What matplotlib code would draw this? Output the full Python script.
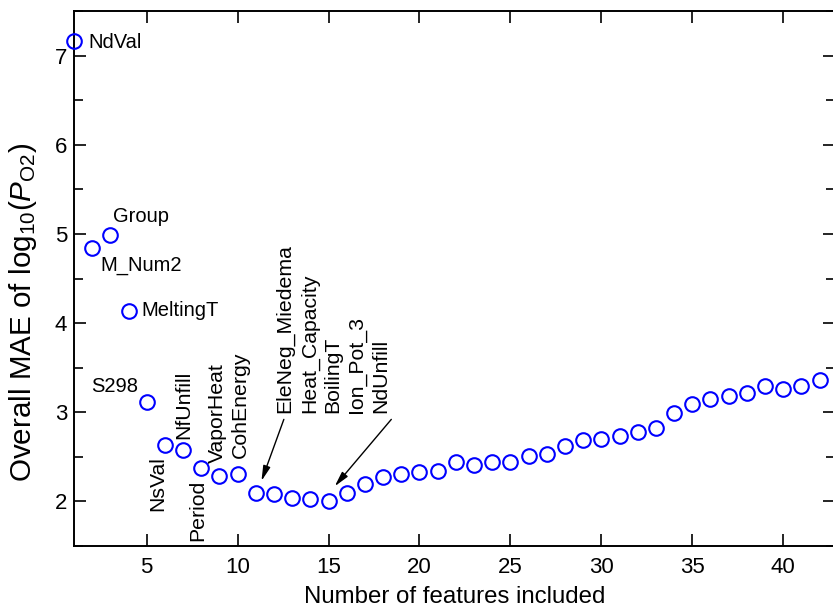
import matplotlib
matplotlib.use("Agg")
import matplotlib.pyplot as plt
from matplotlib.ticker import MultipleLocator

plt.rcParams['font.family'] = ['Liberation Sans', 'DejaVu Sans']
plt.rcParams['mathtext.fontset'] = 'custom'
plt.rcParams['mathtext.rm'] = 'Liberation Sans'
plt.rcParams['mathtext.it'] = 'Liberation Sans:italic'

# ---- data ----
n_features = list(range(1, 43))
mae = [7.16, 4.84, 4.99, 4.14, 3.12, 2.63, 2.58, 2.37, 2.29, 2.31,
       2.10, 2.08, 2.04, 2.03, 2.00, 2.09, 2.19, 2.27, 2.31, 2.33,
       2.34, 2.44, 2.41, 2.44, 2.44, 2.51, 2.53, 2.62, 2.69, 2.70,
       2.73, 2.78, 2.82, 2.99, 3.09, 3.15, 3.18, 3.22, 3.29, 3.26,
       3.30, 3.36]

# horizontal labels
h_labels = ["NdVal", "Group", "M_Num2", "MeltingT", "S298"]
h_x = [1.80, 3.13, 2.43, 4.72, 4.52]
h_y = [7.15, 5.19, 4.65, 4.14, 3.29]
h_ha = ["left", "left", "left", "left", "right"]

# vertical labels (x-centre, y-bottom)
v_labels = ["NsVal", "NfUnfill", "Period", "VaporHeat", "CohEnergy",
            "EleNeg_Miedema", "Heat_Capacity", "BoilingT", "Ion_Pot_3", "NdUnfill"]
v_x = [5.62, 7.04, 7.81, 8.91, 10.15, 12.59, 13.95, 15.25, 16.55, 17.87]
v_y = [1.89, 2.70, 1.555, 2.43, 2.49, 2.995, 2.995, 2.995, 2.995, 2.995]

# arrows (tail -> head)
arrow_tail = [(12.54, 2.92), (18.45, 2.92)]
arrow_head = [(11.31, 2.23), (15.34, 2.17)]

fig = plt.figure(figsize=(8.33, 6.07), dpi=100)
ax = fig.add_axes([74/833, 61/607, (835-74)/833, (596-61)/607])

ax.plot(n_features, mae, linestyle='none', marker='o', markersize=10.5,
        markerfacecolor='none', markeredgecolor='#0000FF', markeredgewidth=1.5,
        clip_on=False, zorder=3)

ax.set_xlim(1, 42.85)
ax.set_ylim(1.5, 7.5)
ax.xaxis.set_major_locator(MultipleLocator(5))
ax.yaxis.set_major_locator(MultipleLocator(1))
ax.yaxis.set_minor_locator(MultipleLocator(0.5))

for s in ax.spines.values():
    s.set_linewidth(1.4)
ax.tick_params(axis='both', which='major', direction='in', length=8.5, width=1.2,
               top=True, right=True, labelsize=16)
ax.tick_params(axis='y', which='minor', direction='in', length=6.5, width=1.2,
               left=True, right=True)
ax.tick_params(axis='x', which='major', pad=8)
ax.tick_params(axis='y', which='major', pad=5)

ax.set_xlabel("Number of features included", fontsize=17.3)
ax.xaxis.set_label_coords(0.5, -0.074)
ax.set_ylabel("Overall MAE of log$_{\\mathrm{10}}$($\\mathit{P}_{\\mathrm{O2}}$)", fontsize=21.3)
ax.yaxis.set_label_coords(-0.046, 0.436)

for t, x, y, ha in zip(h_labels, h_x, h_y, h_ha):
    ax.text(x, y, t, ha=ha, va='center', fontsize=14.5)

for t, x, y in zip(v_labels, v_x, v_y):
    ax.text(x, y, t, ha='center', va='bottom', rotation=90, fontsize=15.3)

for tail, head in zip(arrow_tail, arrow_head):
    ax.annotate("", xy=head, xytext=tail,
                arrowprops=dict(arrowstyle='-|>,head_length=0.9,head_width=0.22',
                                color='black', lw=1.0, shrinkA=0, shrinkB=0))

fig.savefig("out.png", dpi=100)
